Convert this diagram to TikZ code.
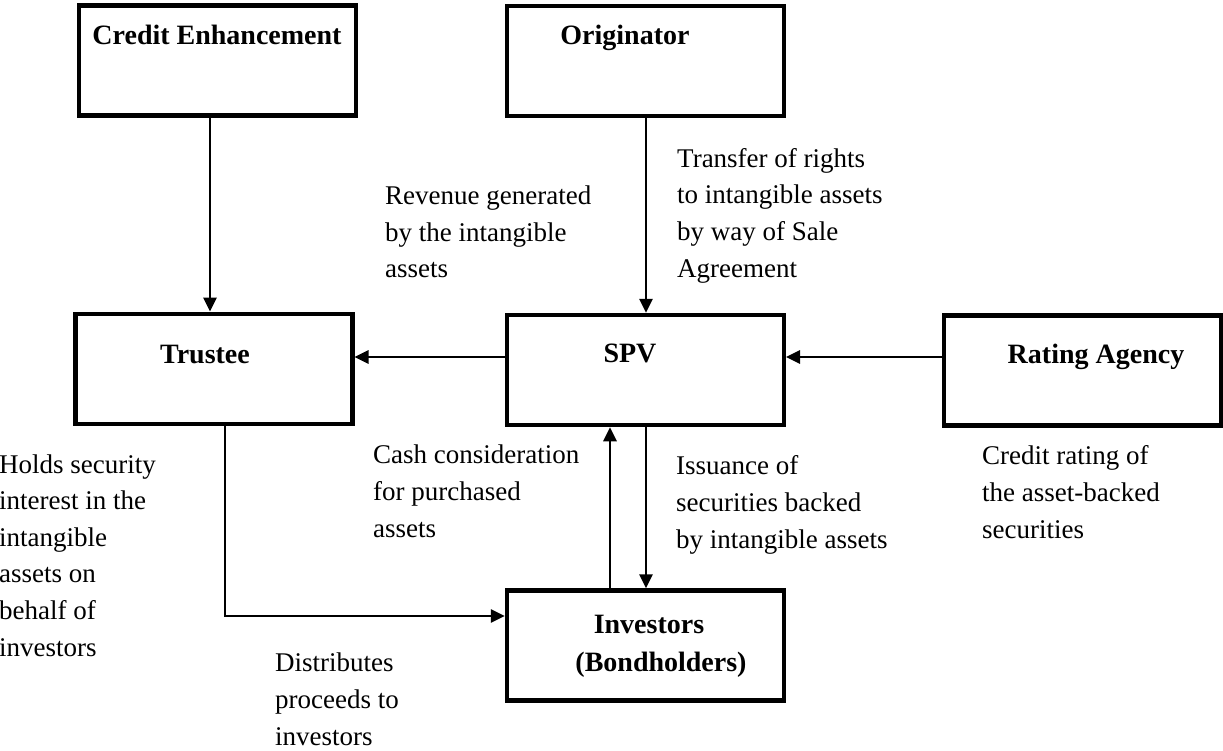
\documentclass[tikz,border=0pt]{standalone}
\usepackage{fontspec}
\setmainfont{Liberation Serif}
\usetikzlibrary{arrows.meta}
\begin{document}
\begin{tikzpicture}[x=1pt,y=-1pt,
  box/.style={draw, line width=4.5pt, minimum width=277pt, minimum height=110pt, inner sep=0pt},
  btxt/.style={font=\fontsize{28}{34}\selectfont\bfseries, inner sep=0pt, anchor=base},
  lbl/.style={font=\fontsize{27}{36.6}\selectfont, align=left, inner sep=0pt, anchor=base west},
  arr/.style={line width=2.8pt, -{Triangle[width=13pt,length=14pt]}}]
\useasboundingbox[fill=white] (0,0) rectangle (1223,751);

% boxes
\node[box] (ce)  at (217.5,60.5) {};
\node[box] (org) at (645.5,61) {};
\node[box] (tr)  at (213.75,368.75) {};
\node[box] (spv) at (645.25,370) {};
\node[box] (inv) at (645.5,645.5) {};
\node[box] (rat) at (1082.5,370.5) {};

% box titles
\node[btxt] (ce-t)  at (217,45) {Credit Enhancement};
\node[btxt] (org-t) at (625,45) {Originator};
\node[btxt] (tr-t)  at (205,363) {Trustee};
\node[btxt] (spv-t) at (630,362) {SPV};
\node[btxt] (rat-t) at (1096,363) {Rating Agency};
\node[btxt] (inv-t) at (649,633) {Investors};
\node[btxt] (inv-b) at (661,671) {(Bondholders)};

% helper coordinates
\coordinate (x210) at (210,0);
\coordinate (x225) at (225,0);
\coordinate (x610) at (610,0);
\coordinate (x646) at (646,0);
\coordinate (y357) at (0,357);
\coordinate (y616) at (0,616);

% connectors
\draw[arr] (x210 |- ce.south) -- (x210 |- tr.north);
\draw[arr] (x646 |- org.south) -- (x646 |- spv.north);
\draw[arr] (spv.west |- y357) -- (tr.east |- y357);
\draw[arr] (rat.west |- y357) -- (spv.east |- y357);
\draw[arr] (x225 |- tr.south) |- (inv.west |- y616);
\draw[arr] (x610 |- inv.north) -- (x610 |- spv.south);
\draw[arr] (x646 |- spv.south) -- (x646 |- inv.north);

% labels (anchored at the baseline of the last line)
\node[lbl] (l-rev)  at (385,278) {Revenue generated\\by the intangible\\assets};
\node[lbl] (l-tr)   at (677,277) {Transfer of rights\\to intangible assets\\by way of Sale\\Agreement};
\node[lbl] (l-hold) at (-1,656) {Holds security\\interest in the\\intangible\\assets on\\behalf of\\investors};
\node[lbl] (l-cash) at (373,537) {Cash consideration\\for purchased\\assets};
\node[lbl] (l-iss)  at (676,548) {Issuance of\\securities backed\\by intangible assets};
\node[lbl] (l-cr)   at (982,538) {Credit rating of\\the asset-backed\\securities};
\node[lbl] (l-dist) at (275,745) {Distributes\\proceeds to\\investors};
\end{tikzpicture}
\end{document}
